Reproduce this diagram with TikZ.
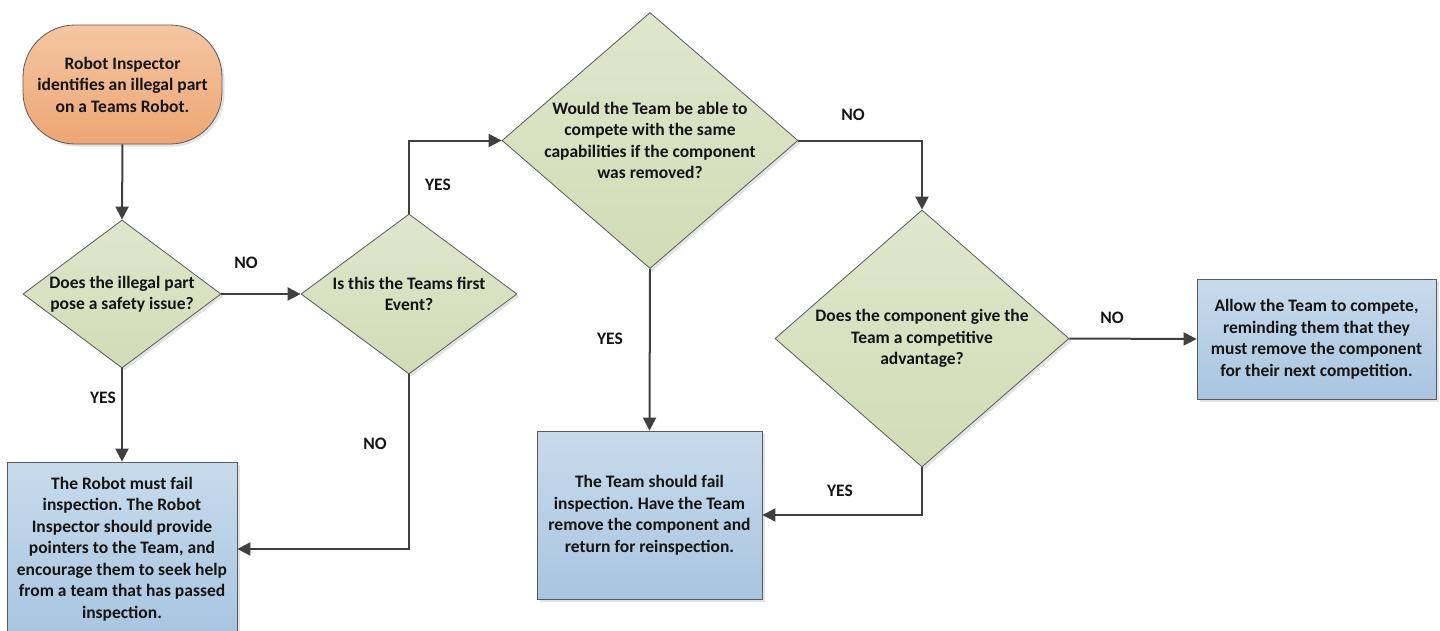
\documentclass[tikz,border=0pt]{standalone}
\usepackage{fontspec}
\setmainfont{Carlito}
\usetikzlibrary{shapes.geometric,arrows.meta,shadows}
\frenchspacing
\definecolor{edgegray}{HTML}{404040}
\definecolor{linegray}{HTML}{5A5A5A}
\definecolor{orangetop}{HTML}{F4C6A2}
\definecolor{orangebot}{HTML}{EEA674}
\definecolor{greentop}{HTML}{E0E6CD}
\definecolor{greenbot}{HTML}{D2DCB5}
\definecolor{bluetop}{HTML}{C8DBEC}
\definecolor{bluebot}{HTML}{A8C5E0}
\definecolor{txtcol}{HTML}{141414}
\tikzset{
  basefont/.style={font=\fontsize{17.5}{21.5}\selectfont\bfseries, text=txtcol},
  shapeframe/.style={draw=linegray, line width=0.8pt,
    drop shadow={shadow xshift=2.5pt, shadow yshift=-2.5pt, fill=black!18, opacity=0.6}},
  termbox/.style={shapeframe, basefont, align=center, rounded corners=52pt,
    top color=orangetop, bottom color=orangebot, inner sep=0pt},
  actbox/.style={shapeframe, basefont, align=center, rectangle,
    top color=bluetop, bottom color=bluebot, inner sep=0pt},
  decbox/.style={shapeframe, diamond, inner sep=0pt,
    top color=greentop, bottom color=greenbot},
  dectext/.style={basefont, align=center, inner sep=0pt},
  answer/.style={basefont, inner sep=0pt},
  flow/.style={draw=edgegray, line width=2pt, -{Triangle[length=13pt,width=13pt]}},
}
\begin{document}
\begin{tikzpicture}[x=1pt,y=-1pt]
\useasboundingbox (0,0) rectangle (1440,630);

% nodes
\node[termbox, minimum width=199pt, minimum height=119pt] (start) at (122.5,84.5)
  {Robot Inspector\\identifies an illegal part\\on a Teams Robot.};

\node[decbox, minimum width=198pt, minimum height=148pt,
  label={[dectext, name=d1t]center:Does the illegal part\\pose a safety issue?}] (d1) at (122,294) {};

\node[decbox, minimum width=216pt, minimum height=160pt,
  label={[dectext, name=d2t]center:Is this the Teams first\\Event?}] (d2) at (409,294) {};

\node[decbox, minimum width=296pt, minimum height=256pt,
  label={[dectext, name=d3t]center:Would the Team be able to\\compete with the same\\capabilities if the component\\was removed?}] (d3) at (650,140.5) {};

\node[decbox, minimum width=294pt, minimum height=257pt,
  label={[dectext, name=d4t]center:Does the component give the\\Team a competitive\\advantage?}] (d4) at (922,338.5) {};

\node[actbox, minimum width=230pt, minimum height=174pt] (box1) at (122,549)
  {The Robot must fail\\inspection. The Robot\\Inspector should provide\\pointers to the Team, and\\encourage them to seek help\\from a team that has passed\\inspection.};

\node[actbox, minimum width=225pt, minimum height=168pt] (box2) at (649.5,515)
  {The Team should fail\\inspection. Have the Team\\remove the component and\\return for reinspection.};

\node[actbox, minimum width=239pt, minimum height=120pt] (box3) at (1316.5,339)
  {Allow the Team to compete,\\reminding them that they\\must remove the component\\for their next competition.};

% answer labels
\node[answer] (l1) at (246,263) {NO};
\node[answer] (l2) at (103,398) {YES};
\node[answer] (l3) at (438,185) {YES};
\node[answer] (l4) at (375,444) {NO};
\node[answer] (l5) at (853,115) {NO};
\node[answer] (l6) at (610,339) {YES};
\node[answer] (l7) at (1112,318) {NO};
\node[answer] (l8) at (840,491) {YES};

% connectors
\draw[flow] (start.south) -- (d1.north);
\draw[flow] (d1.east) -- (d2.west);
\draw[flow] (d1.south) -- (box1.north);
\draw[flow] (d2.north) |- (d3.west);
\draw[flow] (d2.south) |- (box1.east);
\draw[flow] (d3.south) -- (box2.north);
\draw[flow] (d3.east) -| (d4.north);
\draw[flow] (d4.east) -- (box3.west);
\draw[flow] (d4.south) |- (box2.east);
\end{tikzpicture}
\end{document}
